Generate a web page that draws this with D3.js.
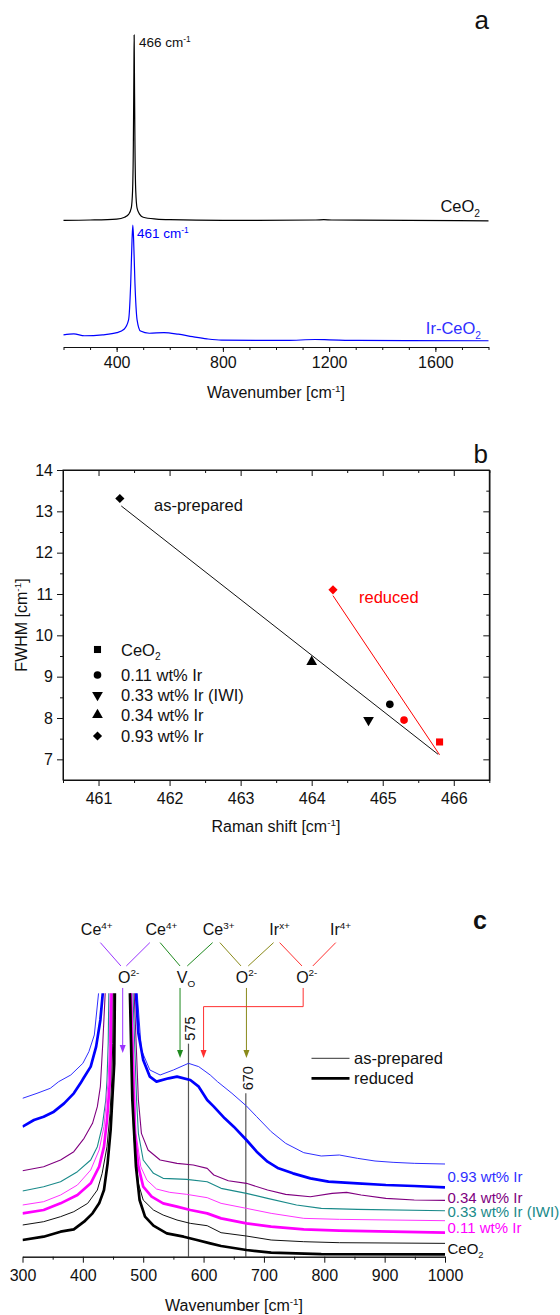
<!DOCTYPE html>
<html>
<head>
<meta charset="utf-8">
<script src="https://cdn.jsdelivr.net/npm/d3@7/dist/d3.min.js"></script>
<style>
    body { margin: 0; background: #fff; }
    svg text { font-family: "Liberation Sans", Arial, sans-serif; fill: #111; }
</style>
</head>
<body>
<div class="chart-svg"></div>
<script>
// ---- panel a: spectra (wavenumber, intensity a.u.) ----
var aCeO2 = [[200,40.6],[300,40.7],[400,41.0],[430,41.6],[445,42.5],[455,44.5],[460,50],[463,65],[465,88],[466,100],
    [467,88],[469,65],[472,50],[477,44.5],[487,42.5],[500,41.6],[550,41.0],[600,40.8],[800,40.6],[1150,40.7],
    [1180,40.8],[1210,40.7],[1500,40.6],[1800,40.4]];
var aIrCeO2 = [[200,3.9],[239,4.2],[279,3.6],[347,3.9],[401,4.6],[428,5.7],[445,8.7],[453,20.4],[458,34.3],[461,39.1],
    [464,34.3],[469,20.4],[477,8.7],[490,5.1],[523,4.4],[578,4.6],[632,4.1],[686,3.3],[740,2.6],[795,2.2],
    [1039,2.1],[1147,2.4],[1201,2.3],[1310,2.1],[1800,2.0]];
var aTicks = [400, 800, 1200, 1600];

// ---- panel b: FWHM vs Raman shift ----
var bSamples = ["CeO2", "0.11 wt% Ir", "0.33 wt% Ir (IWI)", "0.34 wt% Ir", "0.93 wt% Ir"];
var bAsPrepared = [{s:1, x:465.1, y:8.33}, {s:2, x:464.8, y:7.95}, {s:3, x:464.0, y:9.36}, {s:4, x:461.3, y:13.31}];
var bReduced = [{s:0, x:465.8, y:7.42}, {s:1, x:465.3, y:7.95}, {s:4, x:464.3, y:11.1}];
var bFitAsPrepared = [[461.32, 13.13], [465.78, 7.12]];
var bFitReduced = [[464.3, 10.96], [465.8, 7.11]];
var bXTicks = [461, 462, 463, 464, 465, 466];
var bYTicks = [7, 8, 9, 10, 11, 12, 13, 14];

// ---- panel c: low-wavenumber spectra (wavenumber, intensity a.u., offset) ----
var c093ap = [[300,47.5],[324,49],[346,50.5],[360,52.5],[380,54.5],[400,58],[410,61.5],[419,66.5],[426,79],[465,300],
    [490,79],[497,62],[511,56],[528,54.5],[550,56],[575,58],[592,57],[611,54.5],[623,52.5],
    [647,49],[671,45.2],[688,42],[712,37.5],[736,34],[766,31.2],[795,30.2],[825,30.5],[855,29.5],[884,28.7],[914,28.3],[949,28],[1000,27.8]];
var c093red = [[300,39],[319,41],[335,42],[352,43.5],[369,46],[385,49],[396,52],[401,53.5],[413,57],[422,63],[429,71],[433,79],[465,300],
    [488,79],[492,67],[500,59],[511,54],[522,52.5],[542,53.5],[556,54],[578,53],[592,51],[606,47],[617,45],
    [635,41.5],[650,39],[671,35],[688,31.5],[706,28.5],[724,26.5],[748,25],[777,23.5],[807,22.5],[855,22],[902,21.5],[949,21.2],[1000,20.8]];
var c034 = [[300,25.8],[335,27],[363,29],[385,31.5],[402,35.5],[416,40],[424,45],[429,51],[433,64],[437,79],[465,300],
    [485,79],[492,47],[497,37],[508,32],[528,29],[556,28],[583,27.5],[606,26.5],[617,24.5],[641,22.8],[671,22],
    [706,20],[736,18.7],[777,18],[813,19],[837,19.3],[861,18.5],[902,17.5],[949,17],[1000,16.9]];
var c033 = [[300,19.7],[335,21],[363,22.5],[391,25.5],[413,29],[424,33],[432,39],[438,47],[440,53],[442,64],[443,79],[465,300],
    [483,79],[489,47],[492,37],[500,29],[517,25],[533,23.5],[572,23.2],[606,22.5],[629,20.5],[671,19],
    [706,17.5],[754,15.5],[795,14.5],[855,14.2],[1000,13.8]];
var c011ap = [[300,15.5],[335,16.5],[363,18.5],[391,21.5],[413,26],[427,32],[435,39],[440,49],[442,53],[444,64],[445,79],[465,300],
    [481,79],[488,37],[496,27],[506,23],[522,20.3],[544,19.3],[572,18.7],[606,17.7],[629,16],[671,14.5],[712,13],[766,11.5],[825,11.2],[1000,10.8]];
var c011red = [[300,13],[335,14],[363,16],[391,18.5],[413,22],[427,27],[435,33],[440,41],[445,53],[446.5,64],[447.5,79],[465,300],
    [479.5,79],[486,37],[492,27],[500,21],[514,18],[533,16],[556,15],[578,14],[606,13],[629,11.5],[671,10],[712,9],[766,8.2],[825,7.8],[1000,7.2]];
var cCeO2ap = [[300,9.5],[335,10.5],[363,12],[385,13.5],[408,16],[424,20],[432,25],[440,33],[445,43],[448,53],[449.5,64],[450.5,79],[465,300],
    [479,79],[484,37],[492,22],[500,17],[517,14],[533,12.5],[556,11],[578,10],[606,9.3],[629,7.2],[671,6.2],[712,5],[766,4.5],[825,4.2],[1000,4]];
var cCeO2red = [[300,5],[335,6],[363,7.5],[385,8.2],[402,10.5],[416,13],[427,16],[435,20],[441,28],[446,38],[449,48],[452,58],[453,79],[465,300],
    [478,79],[482,47],[488,27],[494,17],[503,12],[517,9.3],[539,7],[567,6],[589,5],[611,4],[629,3.2],[671,2],[712,1.2],[795,0.8],[1000,0.7]];
var cLabels = [{t:"0.93 wt% Ir", y:22.55, c:"#2f2fff"}, {t:"0.34 wt% Ir", y:16.1, c:"#800080"},
    {t:"0.33 wt% Ir (IWI)", y:11.8, c:"#1a8a8a"}, {t:"0.11 wt% Ir", y:7.1, c:"#ff00ff"}, {t:"CeO2", y:0.8, c:"#111"}];
var cMarkers = [575, 670];
var cMarkTop = [63.9, 49];
var cTicks = [300, 400, 500, 600, 700, 800, 900, 1000];

window.onload = function(){
    var svgWidth = 560;
    var svgHeight = 1315;

    var svg = d3.select(".chart-svg")
        .append("svg")
        .attr("width", svgWidth)
        .attr("height", svgHeight);

    // text with sub/superscripts, parts = [[text, 'n'|'sup'|'sub'], ...]
    function rich(g, x, y, parts, size, color, anchor){
        var t = g.append("text")
            .attr("x", x).attr("y", y)
            .attr("font-size", size)
            .attr("text-anchor", anchor || "start")
            .style("fill", color || "#111");
        var shift = 0;
        parts.forEach(function(p){
            var target = p[1] == "sup" ? -0.4 * size : (p[1] == "sub" ? 0.28 * size : 0);
            var ts = t.append("tspan").attr("dy", target - shift).text(p[0]);
            if (p[1] != "n") ts.attr("font-size", size * 0.62);
            shift = target;
        });
        return t;
    };

    function styleAxis(g, size){
        g.selectAll("path").attr("stroke", "#111");
        g.selectAll("line").attr("stroke", "#111");
        g.selectAll("text").attr("font-size", size || 16).style("fill", "#111")
            .attr("font-family", "Liberation Sans, Arial, sans-serif");
    };

    // ================= panel a =================
    var ax = d3.scaleLinear().domain([200, 1800]).range([63.5, 488.5]);
    var ay = d3.scaleLinear().domain([0, 100]).range([347, 35]);
    var aLine = d3.line().x(function(d){ return ax(d[0]); }).y(function(d){ return ay(d[1]); })
        .curve(d3.curveMonotoneX);

    var pa = svg.append("g").attr("class", "plot");
    pa.append("path").datum(aCeO2).attr("d", aLine)
        .attr("fill", "none").attr("stroke", "#000").attr("stroke-width", 1.2);
    pa.append("path").datum(aIrCeO2).attr("d", aLine)
        .attr("fill", "none").attr("stroke", "#0000ff").attr("stroke-width", 1.2);

    var aMinor = pa.append("g").attr("transform", "translate(0,347)")
        .call(d3.axisBottom(ax).tickValues(d3.range(200, 1801, 100)).tickSize(3).tickSizeOuter(0).tickFormat(""));
    styleAxis(aMinor);
    var aMajor = pa.append("g").attr("transform", "translate(0,347)")
        .call(d3.axisBottom(ax).tickValues(aTicks).tickSize(5).tickSizeOuter(0).tickPadding(5).tickFormat(d3.format("d")));
    aMajor.select(".domain").remove();
    styleAxis(aMajor);

    rich(pa, 139, 47, [["466 cm","n"],["-1","sup"]], 13.5, "#111");
    rich(pa, 137, 238, [["461 cm","n"],["-1","sup"]], 13.5, "#0000ff");
    rich(pa, 480, 212, [["CeO","n"],["2","sub"]], 16.5, "#111", "end");
    rich(pa, 481, 334, [["Ir-CeO","n"],["2","sub"]], 16.5, "#2f2fff", "end");
    rich(pa, 276, 398, [["Wavenumber [cm","n"],["-1","sup"],["]","n"]], 16, "#111", "middle");
    pa.append("text").attr("x", 489).attr("y", 29).attr("font-size", 26).attr("text-anchor", "end").text("a");

    // ================= panel b =================
    var bx = d3.scaleLinear().domain([460.5, 466.5]).range([63, 489.3]);
    var by = d3.scaleLinear().domain([6.5, 14]).range([780, 470]);
    var pb = svg.append("g").attr("class", "plot");

    pb.append("rect").attr("x", bx(460.5)).attr("y", by(14))
        .attr("width", bx(466.5) - bx(460.5)).attr("height", by(6.5) - by(14))
        .attr("fill", "none").attr("stroke", "#111").attr("stroke-width", 1);

    var bxMinor = d3.range(460.5, 466.6, 1);
    var byMinor = d3.range(7.5, 14, 1);
    var bLeft = bx(460.5), bRight = bx(466.5), bTop = by(14), bBottom = by(6.5);
    // bottom (out) and top (in)
    styleAxis(pb.append("g").attr("transform", "translate(0," + bBottom + ")")
        .call(d3.axisBottom(bx).tickValues(bXTicks).tickSize(6).tickSizeOuter(0).tickPadding(7).tickFormat(d3.format("d"))));
    styleAxis(pb.append("g").attr("transform", "translate(0," + bBottom + ")")
        .call(d3.axisBottom(bx).tickValues(bxMinor).tickSize(3).tickSizeOuter(0).tickFormat("")));
    styleAxis(pb.append("g").attr("transform", "translate(0," + bTop + ")")
        .call(d3.axisBottom(bx).tickValues(bXTicks).tickSize(6).tickSizeOuter(0).tickFormat("")));
    styleAxis(pb.append("g").attr("transform", "translate(0," + bTop + ")")
        .call(d3.axisBottom(bx).tickValues(bxMinor).tickSize(3).tickSizeOuter(0).tickFormat("")));
    // left (out) and right (in)
    styleAxis(pb.append("g").attr("transform", "translate(" + bLeft + ",0)")
        .call(d3.axisLeft(by).tickValues(bYTicks).tickSize(6).tickSizeOuter(0).tickPadding(4).tickFormat(d3.format("d"))));
    styleAxis(pb.append("g").attr("transform", "translate(" + bLeft + ",0)")
        .call(d3.axisLeft(by).tickValues(byMinor).tickSize(3).tickSizeOuter(0).tickFormat("")));
    styleAxis(pb.append("g").attr("transform", "translate(" + bRight + ",0)")
        .call(d3.axisLeft(by).tickValues(bYTicks).tickSize(6).tickSizeOuter(0).tickFormat("")));
    styleAxis(pb.append("g").attr("transform", "translate(" + bRight + ",0)")
        .call(d3.axisLeft(by).tickValues(byMinor).tickSize(3).tickSizeOuter(0).tickFormat("")));

    var bLine = d3.line().x(function(d){ return bx(d[0]); }).y(function(d){ return by(d[1]); });
    pb.append("path").datum(bFitAsPrepared).attr("d", bLine).attr("stroke", "#111").attr("stroke-width", 1).attr("fill", "none");
    pb.append("path").datum(bFitReduced).attr("d", bLine).attr("stroke", "#ff0000").attr("stroke-width", 1).attr("fill", "none");

    var symbols = [
        {type: d3.symbolSquare, size: 50, rot: 0},
        {type: d3.symbolCircle, size: 46, rot: 0},
        {type: d3.symbolTriangle, size: 50, rot: 180},
        {type: d3.symbolTriangle, size: 50, rot: 0},
        {type: d3.symbolSquare, size: 42, rot: 45}
    ];
    function symPath(s){ return d3.symbol().type(symbols[s].type).size(symbols[s].size)(); };

    pb.selectAll(".pt-ap").data(bAsPrepared).enter().append("path")
        .attr("class", "pt-ap")
        .attr("d", function(d){ return symPath(d.s); })
        .attr("transform", function(d){ return "translate(" + bx(d.x) + "," + by(d.y) + ") rotate(" + symbols[d.s].rot + ")"; })
        .attr("fill", "#000");
    pb.selectAll(".pt-red").data(bReduced).enter().append("path")
        .attr("class", "pt-red")
        .attr("d", function(d){ return symPath(d.s); })
        .attr("transform", function(d){ return "translate(" + bx(d.x) + "," + by(d.y) + ") rotate(" + symbols[d.s].rot + ")"; })
        .attr("fill", "#ff0000");

    // legend
    var legY = [649.5, 675, 695, 715, 736];
    bSamples.forEach(function(name, i){
        pb.append("path").attr("d", symPath(i))
            .attr("transform", "translate(97.5," + legY[i] + ") rotate(" + symbols[i].rot + ")")
            .attr("fill", "#000");
        if (name == "CeO2") {
            rich(pb, 121, legY[i] + 6, [["CeO","n"],["2","sub"]], 16.5, "#111");
        } else {
            rich(pb, 121, legY[i] + 6, [[name,"n"]], 16.5, "#111");
        }
    });

    pb.append("text").attr("x", 154).attr("y", 511).attr("font-size", 16.5).text("as-prepared");
    pb.append("text").attr("x", 359).attr("y", 603).attr("font-size", 16.5).style("fill", "#ff0000").text("reduced");
    rich(pb, 276, 832, [["Raman shift [cm","n"],["-1","sup"],["]","n"]], 16, "#111", "middle");
    var yt = pb.append("g").attr("transform", "translate(27,625) rotate(-90)");
    rich(yt, 0, 0, [["FWHM [cm","n"],["-1","sup"],["]","n"]], 16, "#111", "middle");
    pb.append("text").attr("x", 488).attr("y", 463).attr("font-size", 26).attr("text-anchor", "end").text("b");

    // ================= panel c =================
    var cx = d3.scaleLinear().domain([300, 1000]).range([22.5, 445]);
    var cy = d3.scaleLinear().domain([0, 79]).range([1256.7, 993.3]);
    var pc = svg.append("g").attr("class", "plot");

    svg.append("defs").append("clipPath").attr("id", "clipc")
        .append("rect").attr("x", cx(300)).attr("y", cy(79))
        .attr("width", cx(1000) - cx(300)).attr("height", cy(0) - cy(79));

    var cLine = d3.line().x(function(d){ return cx(d[0]); }).y(function(d){ return cy(d[1]); });

    // marker lines 575 and 670
    cMarkers.forEach(function(m, i){
        pc.append("line").attr("x1", cx(m)).attr("x2", cx(m)).attr("y1", cy(cMarkTop[i])).attr("y2", cy(0))
            .attr("stroke", "#555").attr("stroke-width", 1.2);
        pc.append("text").attr("font-size", 14.5)
            .attr("transform", "translate(" + (cx(m) + 7) + "," + (cy(cMarkTop[i]) - 3) + ") rotate(-90)")
            .text(m);
    });

    var cSeries = [
        {d: c093ap, c: "#2f2fff", w: 1},
        {d: c093red, c: "#0000ff", w: 2.7},
        {d: c034, c: "#800080", w: 1.1},
        {d: c033, c: "#1a8a8a", w: 1.1},
        {d: c011ap, c: "#ff33ff", w: 1},
        {d: c011red, c: "#ff00ff", w: 2.7},
        {d: cCeO2ap, c: "#111", w: 1},
        {d: cCeO2red, c: "#000", w: 2.7}
    ];
    var curves = pc.append("g").attr("clip-path", "url(#clipc)");
    cSeries.forEach(function(s){
        curves.append("path").datum(s.d).attr("d", cLine)
            .attr("fill", "none").attr("stroke", s.c).attr("stroke-width", s.w)
            .attr("stroke-linejoin", "round");
    });

    styleAxis(pc.append("g").attr("transform", "translate(0," + cy(0) + ")")
        .call(d3.axisBottom(cx).tickValues(d3.range(350, 1000, 100)).tickSize(3).tickSizeOuter(0).tickFormat("")));
    styleAxis(pc.append("g").attr("transform", "translate(0," + cy(0) + ")")
        .call(d3.axisBottom(cx).tickValues(cTicks).tickSize(6).tickSizeOuter(0).tickPadding(7).tickFormat(d3.format("d"))), 16);

    cLabels.forEach(function(l){
        if (l.t == "CeO2") {
            rich(pc, 447.5, cy(l.y), [["CeO","n"],["2","sub"]], 15, l.c);
        } else {
            rich(pc, 447.5, cy(l.y), [[l.t,"n"]], 15, l.c);
        }
    });

    // legend
    pc.append("line").attr("x1", 311.5).attr("x2", 349.5).attr("y1", 1058.3).attr("y2", 1058.3).attr("stroke", "#333").attr("stroke-width", 1);
    pc.append("line").attr("x1", 311.5).attr("x2", 349.5).attr("y1", 1078.3).attr("y2", 1078.3).attr("stroke", "#000").attr("stroke-width", 2.7);
    pc.append("text").attr("x", 354).attr("y", 1064).attr("font-size", 16.5).text("as-prepared");
    pc.append("text").attr("x", 354).attr("y", 1084).attr("font-size", 16.5).text("reduced");

    // defect scheme above the peak
    var topSpecies = [{x:423, p:[["Ce","n"],["4+","sup"]]}, {x:530, p:[["Ce","n"],["4+","sup"]]},
        {x:625, p:[["Ce","n"],["3+","sup"]]}, {x:726, p:[["Ir","n"],["x+","sup"]]}, {x:827, p:[["Ir","n"],["4+","sup"]]}];
    var botSpecies = [{x:476, p:[["O","n"],["2-","sup"]]}, {x:571, p:[["V","n"],["O","sub"]]},
        {x:671, p:[["O","n"],["2-","sup"]]}, {x:771, p:[["O","n"],["2-","sup"]]}];
    topSpecies.forEach(function(s){ rich(pc, cx(s.x), cy(96.5), s.p, 16, "#111", "middle"); });
    botSpecies.forEach(function(s){ rich(pc, cx(s.x), cy(82.2), s.p, 16, "#111", "middle"); });

    var links = [
        {c: "#9933ff", a: [[429, 463], [511, 472]]},
        {c: "#1f8a1f", a: [[528, 561], [615, 573]]},
        {c: "#8a8a1a", a: [[627, 662], [716, 674]]},
        {c: "#ff3030", a: [[726, 763], [819, 781]]}
    ];
    links.forEach(function(l){
        l.a.forEach(function(seg){
            pc.append("line").attr("x1", cx(seg[0])).attr("y1", cy(94.2)).attr("x2", cx(seg[1])).attr("y2", cy(87.2))
                .attr("stroke", l.c).attr("stroke-width", 1);
        });
    });

    // arrows: path in data units, last point is the tip
    var arrows = [
        {c: "#9933ff", p: [[466, 80.6], [466, 61.1]]},
        {c: "#1f8a1f", p: [[561, 80.6], [561, 59.6]]},
        {c: "#8a8a1a", p: [[671, 80.6], [671, 59.6]]},
        {c: "#ff3030", p: [[765, 80.6], [765, 75], [600, 75], [600, 59.6]]}
    ];
    arrows.forEach(function(a){
        var pts = a.p.map(function(d){ return [cx(d[0]), cy(d[1])]; });
        var tip = pts[pts.length - 1];
        pts[pts.length - 1] = [tip[0], tip[1] - 6];
        pc.append("path").attr("d", d3.line()(pts)).attr("fill", "none").attr("stroke", a.c).attr("stroke-width", 1);
        pc.append("path")
            .attr("d", "M" + (tip[0] - 3) + "," + (tip[1] - 8) + "L" + (tip[0] + 3) + "," + (tip[1] - 8) + "L" + tip[0] + "," + tip[1] + "Z")
            .attr("fill", a.c);
    });

    rich(pc, 234, 1311, [["Wavenumber [cm","n"],["-1","sup"],["]","n"]], 16, "#111", "middle");
    pc.append("text").attr("x", 487).attr("y", 929).attr("font-size", 25).attr("font-weight", "bold").attr("text-anchor", "end").text("c");
};
</script>
</body>
</html>
